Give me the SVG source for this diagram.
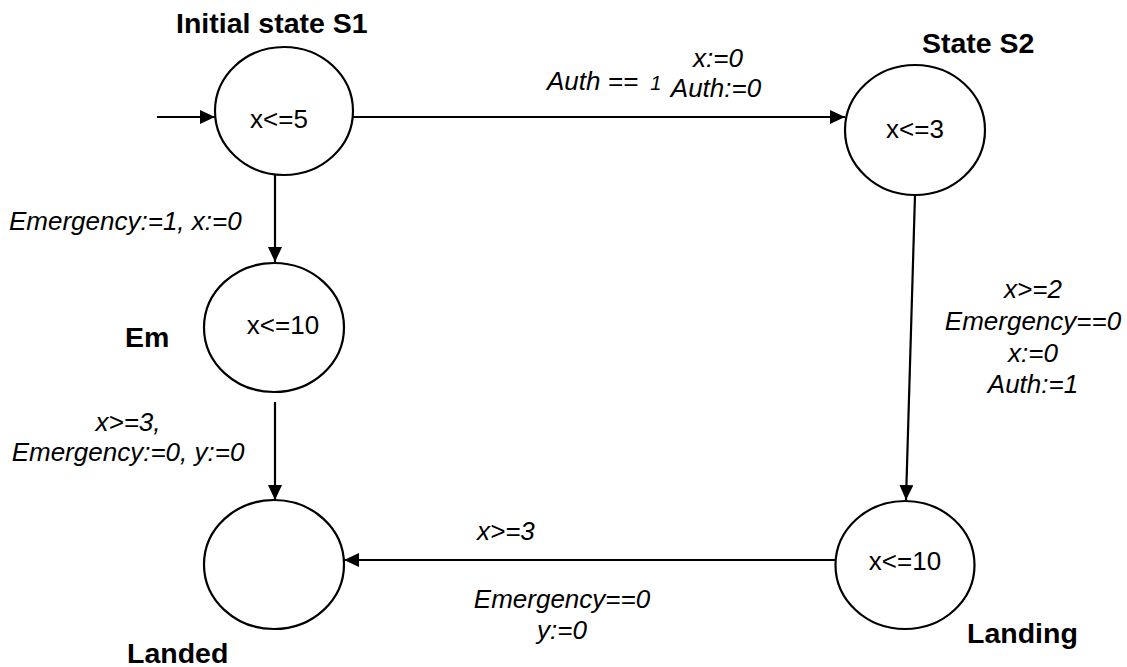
<svg xmlns="http://www.w3.org/2000/svg" width="1127" height="667" viewBox="0 0 1127 667">
<style>
.st{fill:#fff;stroke:#000;stroke-width:2.2}
.c{fill:none;stroke:#000;stroke-width:2.2}
.name{font-family:"Liberation Sans",Arial,sans-serif;font-weight:bold;font-size:28.5px;fill:#000}
.inv{font-family:"Liberation Sans",Arial,sans-serif;font-size:26px;fill:#000;text-anchor:middle}
.lbl{font-family:"Liberation Sans",Arial,sans-serif;font-style:italic;font-size:26px;fill:#000}
</style>
<defs>
<marker id="ah" markerUnits="userSpaceOnUse" markerWidth="16" markerHeight="16" refX="15" refY="7" orient="auto">
<path d="M0,0 L15,7 L0,14 z" fill="#000"/>
</marker>
</defs>
<g id="connectors">
<line class="c" x1="157" y1="117" x2="215" y2="117" marker-end="url(#ah)"/>
<line class="c" x1="353" y1="117" x2="845" y2="117" marker-end="url(#ah)"/>
<line class="c" x1="275" y1="175" x2="275" y2="262" marker-end="url(#ah)"/>
<line class="c" x1="275" y1="402" x2="275" y2="500" marker-end="url(#ah)"/>
<line class="c" x1="915" y1="195" x2="906" y2="500" marker-end="url(#ah)"/>
<line class="c" x1="836" y1="560" x2="344" y2="560" marker-end="url(#ah)"/>
<text class="lbl" x="547" y="90">Auth == <tspan dx="5" font-size="20">1</tspan></text>
<text class="lbl" text-anchor="middle" x="718" y="67">x:=0</text>
<text class="lbl" text-anchor="middle" x="716" y="97">Auth:=0</text>
<text class="lbl" x="9" y="230">Emergency:=1, x:=0</text>
<text class="lbl" text-anchor="middle" x="128" y="431">x&gt;=3,</text>
<text class="lbl" text-anchor="middle" x="128" y="461">Emergency:=0, y:=0</text>
<text class="lbl" text-anchor="middle" x="1033" y="298">x&gt;=2</text>
<text class="lbl" text-anchor="middle" x="1033" y="330">Emergency==0</text>
<text class="lbl" text-anchor="middle" x="1033" y="362">x:=0</text>
<text class="lbl" text-anchor="middle" x="1033" y="393">Auth:=1</text>
<text class="lbl" x="477" y="540">x&gt;=3</text>
<text class="lbl" text-anchor="middle" x="562" y="608">Emergency==0</text>
<text class="lbl" text-anchor="middle" x="562" y="639">y:=0</text>
</g>
<g id="S1">
<ellipse class="st" cx="284" cy="111" rx="69" ry="64"/>
<text class="inv" x="279" y="128">x&lt;=5</text>
<text class="name" x="176" y="33">Initial state S1</text>
</g>
<g id="S2">
<ellipse class="st" cx="915" cy="130" rx="70" ry="65"/>
<text class="inv" x="915" y="138">x&lt;=3</text>
<text class="name" x="922" y="53">State S2</text>
</g>
<g id="Em">
<ellipse class="st" cx="274" cy="327.5" rx="70" ry="64.5"/>
<text class="inv" x="283" y="334">x&lt;=10</text>
<text class="name" x="125" y="347">Em</text>
</g>
<g id="Landed">
<ellipse class="st" cx="274" cy="564.5" rx="70" ry="64.5"/>
<text class="name" x="127" y="663">Landed</text>
</g>
<g id="Landing">
<ellipse class="st" cx="905" cy="565" rx="69.5" ry="64"/>
<text class="inv" x="905" y="570">x&lt;=10</text>
<text class="name" x="967" y="643">Landing</text>
</g>
</svg>
